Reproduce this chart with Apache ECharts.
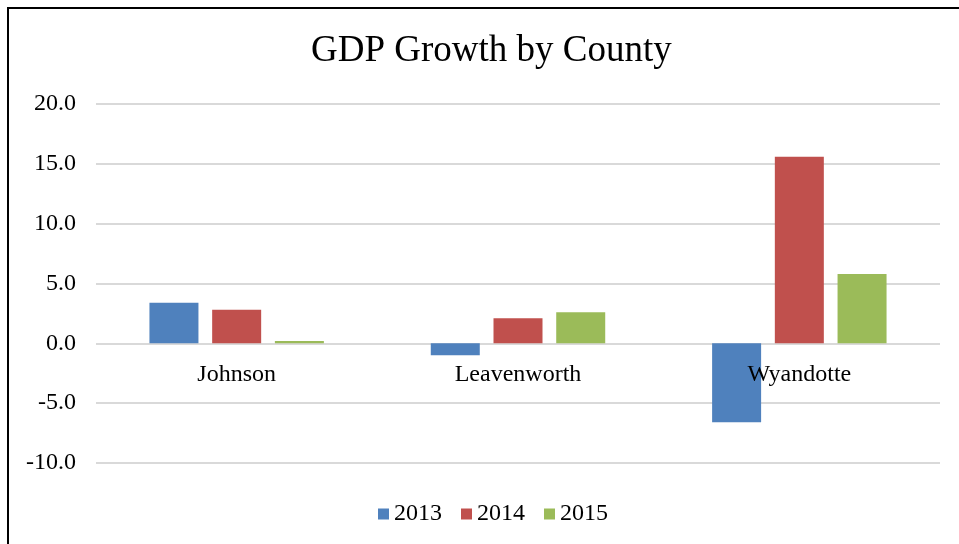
<!DOCTYPE html>
<html>
<head>
<meta charset="utf-8">
<script src="https://cdn.jsdelivr.net/npm/echarts@6/dist/echarts.min.js"></script>
<style>
  html, body { margin: 0; padding: 0; background: #fff; }
  #chart { width: 959px; height: 544px; }
</style>
</head>
<body>
<div id="chart"></div>
<script>
// GDP growth (%) by county and year
var counties = ['Johnson', 'Leavenworth', 'Wyandotte'];
var years = ['2013', '2014', '2015'];
var growth2013 = [3.4, -1.0, -6.6];
var growth2014 = [2.8, 2.1, 15.6];
var growth2015 = [0.2, 2.6, 5.8];
var yTicks = [-10, -5, 0, 5, 10, 15, 20];
var colors = ['#4F81BD', '#C0504D', '#9BBB59'];

var serif = '"Liberation Serif", "Times New Roman", serif';
var valuesByYear = [growth2013, growth2014, growth2015];

var gridTop = 104, gridBottom = 81, chartHeight = 544;
var yMin = yTicks[0], yMax = yTicks[yTicks.length - 1];
// distance from the bottom of the grid up to the zero line, so the
// category labels sit just under zero the way the spreadsheet chart draws them
var plotH = chartHeight - gridTop - gridBottom;
var zeroOffset = -Math.round(plotH * (0 - yMin) / (yMax - yMin));

var chart = echarts.init(document.getElementById('chart'));
chart.setOption({
  animation: false,
  backgroundColor: '#fff',
  color: colors,
  textStyle: { fontFamily: serif, color: '#000' },
  title: {
    text: 'GDP Growth by County',
    left: 306,
    top: 28,
    textStyle: { fontFamily: serif, fontSize: 37, fontWeight: 'normal', color: '#000' }
  },
  graphic: [{
    type: 'rect',
    shape: { x: 8, y: 8, width: 1000, height: 600 },
    style: { fill: 'none', stroke: '#000', lineWidth: 2 },
    silent: true
  }],
  legend: {
    bottom: 13,
    left: 373,
    itemWidth: 11,
    itemHeight: 11,
    itemGap: 19,
    icon: 'rect',
    textStyle: { fontFamily: serif, fontSize: 24, color: '#000', padding: [0, 0, 0, 0] },
    data: years
  },
  grid: { left: 96, right: 19, top: gridTop, bottom: gridBottom },
  xAxis: {
    type: 'category',
    data: counties,
    offset: zeroOffset,
    z: 5,
    // the zero gridline of the value axis serves as the baseline
    axisLine: { show: false },
    axisTick: { show: false },
    axisLabel: { fontFamily: serif, fontSize: 24, color: '#000', margin: 20 }
  },
  yAxis: {
    type: 'value',
    min: yMin,
    max: yMax,
    interval: 5,
    axisLine: { show: false },
    axisTick: { show: false },
    axisLabel: {
      fontFamily: serif, fontSize: 24, color: '#000', margin: 20,
      formatter: function (v) { return v.toFixed(1); }
    },
    splitLine: { lineStyle: { color: '#D9D9D9', width: 2 } }
  },
  series: years.map(function (y, i) {
    return {
      name: y,
      type: 'bar',
      data: valuesByYear[i],
      barWidth: 49,
      barGap: '28%',
      itemStyle: { color: colors[i] }
    };
  })
});
</script>
</body>
</html>
